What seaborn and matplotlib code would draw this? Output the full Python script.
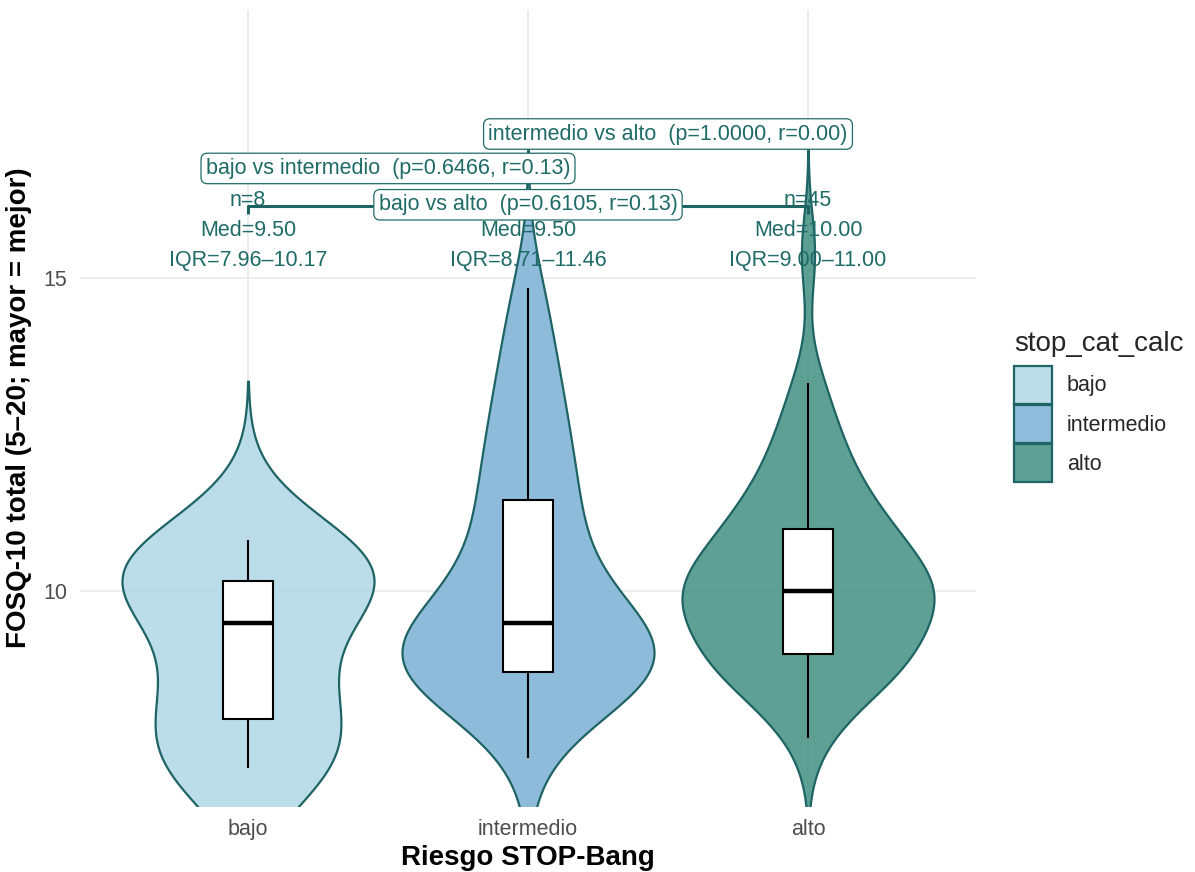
import numpy as np
import pandas as pd
import matplotlib
matplotlib.use("Agg")
import matplotlib.pyplot as plt
from matplotlib.patches import Patch
from matplotlib.colors import to_rgba
import seaborn as sns

# ---------------- data ----------------
categories = ["bajo", "intermedio", "alto"]
bajo_vals = [7.17, 7.30, 8.18, 8.85, 10.15, 10.15, 10.23, 10.81]
intermedio_vals = [7.33, 8.30, 8.45, 8.55, 8.60, 8.62, 8.65, 8.68, 8.70, 8.72,
                   8.80, 8.90, 9.00, 9.10, 9.20, 9.30, 9.40, 9.50, 9.60, 9.80,
                   10.00, 10.25, 10.50, 10.75, 11.00, 11.33, 11.59, 11.80,
                   12.10, 12.50, 12.80, 13.20, 13.60, 14.20, 14.84]
alto_vals = [7.65, 8.10, 8.30, 8.45, 8.60, 8.70, 8.80, 8.90, 8.95, 9.00, 9.00,
             9.00, 9.20, 9.35, 9.50, 9.60, 9.70, 9.80, 9.90, 10.00, 10.00,
             10.00, 10.00, 10.00, 10.00, 10.10, 10.25, 10.40, 10.50, 10.60,
             10.75, 10.90, 11.00, 11.00, 11.00, 11.20, 11.40, 11.60, 11.80,
             12.00, 12.20, 12.50, 12.90, 13.32, 15.40]
stat_labels = ["n=8\nMed=9.50\nIQR=7.96\u201310.17",
               "n=35\nMed=9.50\nIQR=8.71\u201311.46",
               "n=45\nMed=10.00\nIQR=9.00\u201311.00"]
comparisons = [("bajo", "alto", "bajo vs alto  (p=0.6105, r=0.13)"),
               ("bajo", "intermedio", "bajo vs intermedio  (p=0.6466, r=0.13)"),
               ("intermedio", "alto", "intermedio vs alto  (p=1.0000, r=0.00)")]
y_ticks = [10, 15]

# ---------------- style ----------------
fill_colors = ["#B0D6E6", "#7AB0D3", "#438F83"]   # drawn with alpha 0.85
key_colors = ["#BCDCEA", "#8EBCDA", "#5FA096"]
fill_alpha = 0.85
edge_color = "#1E6464"
text_teal = "#1F6B67"
grid_color = "#E8E8E8"

sns.set_theme(style="white")
plt.rcParams["font.family"] = ["Liberation Sans", "DejaVu Sans"]

df = pd.DataFrame({
    "grupo": (["bajo"] * len(bajo_vals) + ["intermedio"] * len(intermedio_vals)
              + ["alto"] * len(alto_vals)),
    "valor": bajo_vals + intermedio_vals + alto_vals,
})
df["grupo"] = pd.Categorical(df["grupo"], categories=categories, ordered=True)


def nrd0(kde):
    x = kde.dataset[0]
    sd = x.std(ddof=1)
    q75, q25 = np.percentile(x, [75, 25])
    lo = min(sd, (q75 - q25) / 1.34)
    return 0.9 * lo * len(x) ** -0.2 / sd


fig = plt.figure(figsize=(11.95, 8.72), dpi=100)
ax = fig.add_axes([80 / 1195, 66 / 872, 896 / 1195, 796 / 872])

for x in range(3):
    ax.axvline(x, color=grid_color, lw=1.1, zorder=0)
for yv in y_ticks:
    ax.axhline(yv, color=grid_color, lw=1.1, zorder=0)

sns.violinplot(data=df, x="grupo", y="valor", hue="grupo", order=categories,
               hue_order=categories, palette=fill_colors, cut=3,
               bw_method=nrd0, gridsize=512, inner=None, width=0.9,
               density_norm="area", linewidth=1.6, linecolor=edge_color,
               saturation=1, legend=False, ax=ax)
for coll, c in zip(ax.collections, fill_colors):
    coll.set_facecolor(to_rgba(c, fill_alpha))
    coll.set_edgecolor(edge_color)

sns.boxplot(data=df, x="grupo", y="valor", order=categories, width=0.18,
            showfliers=False, whis=1.5, color="white", linecolor="black",
            linewidth=1.5, showcaps=False, saturation=1,
            boxprops=dict(facecolor="white", edgecolor="black", zorder=3),
            medianprops=dict(color="black", linewidth=3.2, zorder=4),
            whiskerprops=dict(color="black", linewidth=1.5, zorder=3),
            ax=ax)

# stat text per group
for i, lab in enumerate(stat_labels):
    ax.text(i, 15.76, lab, ha="center", va="center", fontsize=15.5,
            color=text_teal, linespacing=1.55, zorder=5)

# bracket bajo - alto
pos = {c: i for i, c in enumerate(categories)}
y_br = 16.15
ax.plot([pos["bajo"], pos["bajo"], pos["alto"], pos["alto"]],
        [y_br - 0.13, y_br, y_br, y_br - 0.13], color=edge_color, lw=2.2,
        solid_capstyle="butt", zorder=5)

label_y = [16.17, 16.75, 17.30]
for (a, b, lab), yy in zip(comparisons, label_y):
    xm = (pos[a] + pos[b]) / 2
    ax.text(xm, yy, lab, ha="center", va="center", fontsize=15.5,
            color=text_teal, zorder=6,
            bbox=dict(boxstyle="round,pad=0.22,rounding_size=0.3",
                      facecolor="white", edgecolor=text_teal, linewidth=0.9))

ax.set_xlim(-0.6, 2.6)
ax.set_ylim(6.57, 19.28)
ax.set_yticks(y_ticks)
ax.set_yticklabels([str(v) for v in y_ticks])
for s in ax.spines.values():
    s.set_visible(False)
ax.tick_params(axis="both", length=0, labelsize=15.5, labelcolor="#4D4D4D")
ax.tick_params(axis="x", pad=9)
ax.tick_params(axis="y", pad=9)
ax.grid(False)

ax.set_xlabel("Riesgo STOP-Bang", fontsize=20, fontweight="bold",
              color="black", labelpad=4)
ax.set_ylabel("FOSQ-10 total (5\u201320; mayor = mejor)", fontsize=20,
              fontweight="bold", color="black", labelpad=8)

handles = [Patch(facecolor=c, edgecolor=edge_color, linewidth=1.6)
           for c in key_colors]
leg = fig.legend(handles, categories, title="stop_cat_calc",
                 loc="center left", bbox_to_anchor=(1014 / 1195, 0.534),
                 frameon=False, fontsize=15.5, title_fontsize=20,
                 handlelength=1.75, handleheight=2.34, handletextpad=0.7,
                 labelspacing=0.05, borderpad=0, borderaxespad=0)
leg._legend_box.align = "left"
leg._legend_box.sep = 6.5

fig.savefig("out.png", dpi=100)
